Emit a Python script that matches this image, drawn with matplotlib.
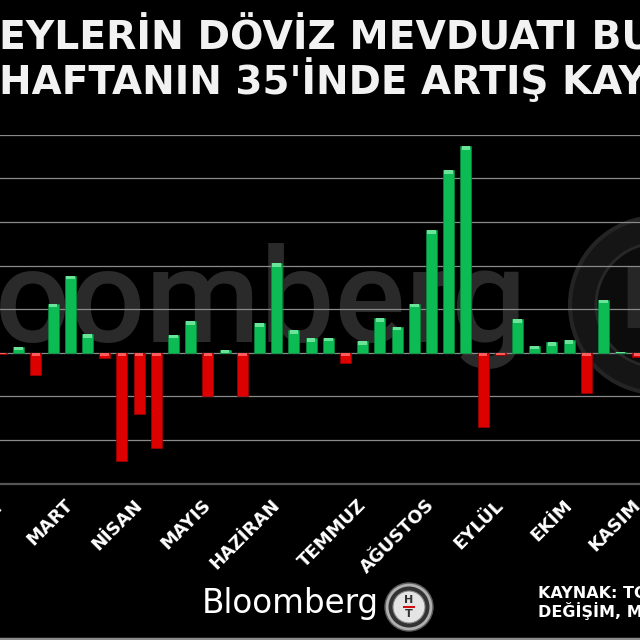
import matplotlib.pyplot as plt
import matplotlib.transforms as mtransforms
from matplotlib.patches import Circle, Rectangle
from matplotlib.lines import Line2D

# weekly change, one bar per week (grid step = 1)
weekly_change = [-0.03, 0.14, -0.52, 1.12, 1.76, 0.42, -0.13, -2.48, -1.41, -2.19,
                 0.41, 0.72, -0.99, 0.06, -1.00, 0.67, 2.05, 0.51, 0.33, 0.34,
                 -0.24, 0.26, 0.79, 0.60, 1.12, 2.81, 4.19, 4.74, -1.70, -0.05,
                 0.77, 0.16, 0.24, 0.28, -0.92, 1.22, 0.02, -0.10]
month_pos = [0, 4, 8, 12, 16, 21, 25, 29, 33, 37]
month_labels = ["ŞUBAT", "MART", "NİSAN", "MAYIS", "HAZİRAN", "TEMMUZ",
                "AĞUSTOS", "EYLÜL", "EKİM", "KASIM"]
grid_levels = [-2, -1, 0, 1, 2, 3, 4, 5]

W = H = 640.0


def px(x, y):
    # pixel position (from top left) -> figure fraction
    return x / W, 1 - y / H


fig = plt.figure(figsize=(6.4, 6.4), dpi=100, facecolor="black")

# plot area: zero line at y=352.7px, 43.6px per unit, bar pitch 17.2px
ax_bottom, ax_top = 483.5, 134.7
ax = fig.add_axes([0, 1 - ax_bottom / H, 1, (ax_bottom - ax_top) / H])
ax.set_facecolor("black")
ax.set_ylim(-3, 5)
ax.set_xlim(-1.5 / 17.2, (W - 1.5) / 17.2)

x = list(range(len(weekly_change)))
green, green_cap, green_edge = "#0dbb55", "#6be49a", "#078a3c"
red, red_cap, red_edge = "#dc0000", "#ff5a5a", "#a00000"
colors = [green if v >= 0 else red for v in weekly_change]
edges = [green_edge if v >= 0 else red_edge for v in weekly_change]
ax.bar(x, weekly_change, width=0.64, color=colors, edgecolor=edges,
       linewidth=0.5, zorder=2)

# lighter bevel on the top end of each bar
cap = 0.08
cap_h = [-min(cap, abs(v)) for v in weekly_change]
cap_bottom = [max(v, 0) for v in weekly_change]
cap_col = [green_cap if v >= 0 else red_cap for v in weekly_change]
ax.bar(x, cap_h, bottom=cap_bottom, width=0.5, color=cap_col,
       linewidth=0, zorder=3)

ax.set_yticks(grid_levels)
ax.set_yticklabels([])
ax.tick_params(axis="y", length=0)
ax.set_axisbelow(True)
ax.grid(axis="y", color="#8a8a8a", linewidth=0.9)
for s in ["top", "left", "right"]:
    ax.spines[s].set_visible(False)
ax.spines["bottom"].set_color("#555555")
ax.spines["bottom"].set_linewidth(1.6)

ax.set_xticks(month_pos)
ax.set_xticklabels(month_labels, rotation=45, ha="right",
                   rotation_mode="anchor", fontsize=13, fontweight="bold",
                   color="white", family="DejaVu Sans")
ax.tick_params(axis="x", length=0, pad=9)
shift = mtransforms.ScaledTranslation(-6 / 100, 0, fig.dpi_scale_trans)
for lab in ax.get_xticklabels():
    lab.set_transform(lab.get_transform() + shift)

# faint watermark behind the bars
wx, wy = px(527, 342)
ax.text(wx, wy, "Bloomberg", transform=fig.transFigure, ha="right",
        va="baseline", fontsize=95, family="Roboto", fontweight="medium",
        color="#2a2a2a", zorder=0.2)
cx, cy = px(658, 305)
ax.add_patch(Circle((cx, cy), 88 / W, transform=fig.transFigure,
                    facecolor="#151515", edgecolor="#242424", linewidth=3,
                    zorder=0.2))
ax.add_patch(Circle((cx, cy), 62 / W, transform=fig.transFigure,
                    facecolor="#0c0c0c", edgecolor="#282828", linewidth=2,
                    zorder=0.2))
ax.text(cx - 4 / W, cy, "H", transform=fig.transFigure, ha="center",
        va="center", fontsize=60, fontweight="bold", color="#262626",
        zorder=0.2)

# title, cut by the image edges
t1x, t1y = px(-1, 50)
fig.text(t1x, t1y, "EYLERİN DÖVİZ MEVDUATI BU", ha="left", va="baseline",
         fontsize=28.3, fontweight="bold", color="#f2f2f2", family="DejaVu Sans")
t2x, t2y = px(-1, 94)
fig.text(t2x, t2y, "HAFTANIN 35'İNDE ARTIŞ KAYDETTİ", ha="left", va="baseline",
         fontsize=28, fontweight="bold", color="#f2f2f2", family="DejaVu Sans")

# Bloomberg HT logo at the bottom
bx, by = px(202, 613)
fig.text(bx, by, "Bloomberg", ha="left", va="baseline", fontsize=23.5,
         color="white", family="DejaVu Sans")
lx, ly = px(409, 607)
fig.add_artist(Circle((lx, ly), 24 / W, transform=fig.transFigure,
                      facecolor="#b0b0b0", edgecolor="#5a5a5a", linewidth=1))
fig.add_artist(Circle((lx, ly), 20.5 / W, transform=fig.transFigure,
                      facecolor="#333333", edgecolor="none"))
fig.add_artist(Circle((lx, ly), 16 / W, transform=fig.transFigure,
                      facecolor="#e4e4e4", edgecolor="#8a8a8a", linewidth=0.8))
fig.text(lx, ly + 7 / H, "H", ha="center", va="center", fontsize=8,
         fontweight="bold", color="#333333")
fig.text(lx, ly - 7 / H, "T", ha="center", va="center", fontsize=8,
         fontweight="bold", color="#333333")
fig.add_artist(Rectangle((lx - 6 / W, ly - 1.2 / H), 12 / W, 2.4 / H,
                         transform=fig.transFigure, facecolor="#d01010",
                         edgecolor="none"))

# source note
sx, sy = px(538, 598)
fig.text(sx, sy, "KAYNAK: TCMB", ha="left", va="baseline", fontsize=11.5,
         fontweight="bold", color="white", family="DejaVu Sans")
sx2, sy2 = px(538, 617)
fig.text(sx2, sy2, "DEĞİŞİM, MİLYAR $", ha="left", va="baseline", fontsize=11.5,
         fontweight="bold", color="white", family="DejaVu Sans")

# thin frame line at the very bottom
fig.add_artist(Line2D([0, 1], [1.5 / H, 1.5 / H], transform=fig.transFigure,
                      color="#8c8c8c", linewidth=2.5))

fig.savefig("out.png", dpi=100, facecolor="black")
